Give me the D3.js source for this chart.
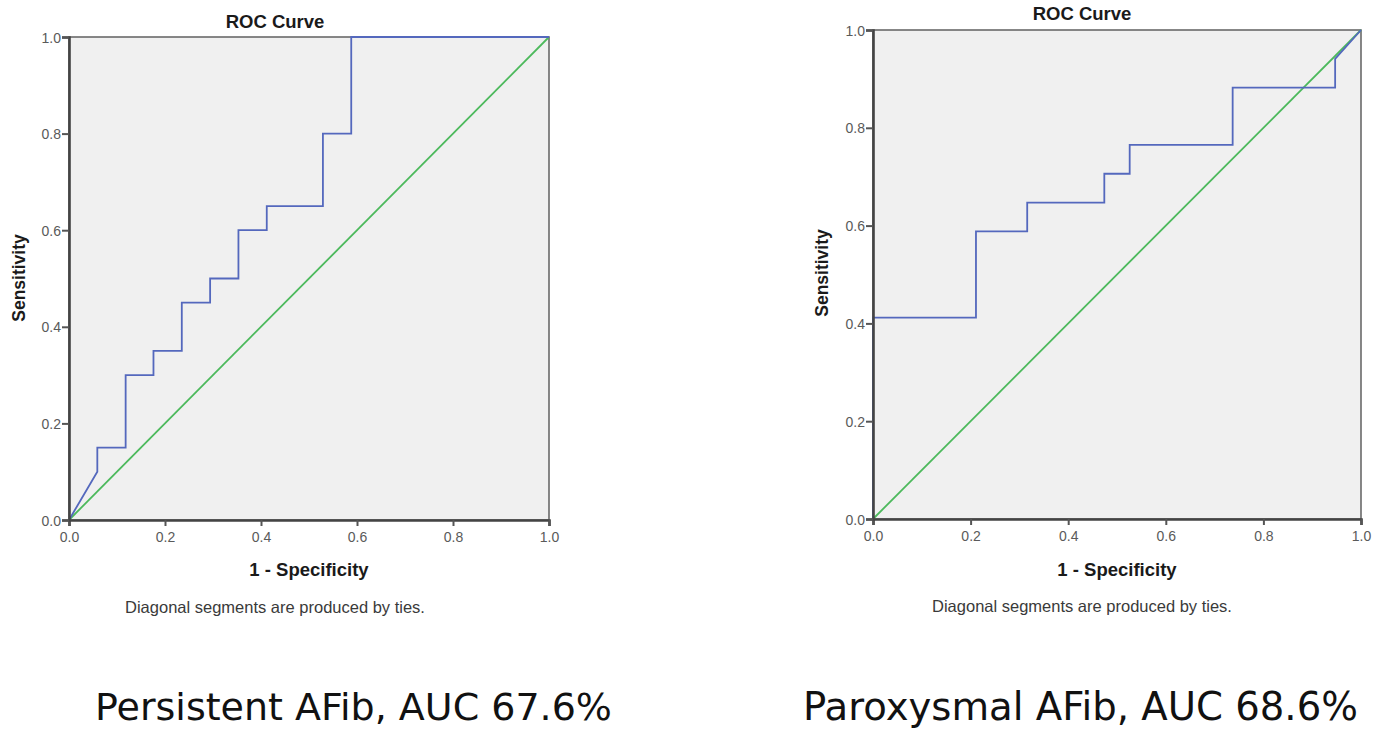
<!DOCTYPE html>
<html>
<head>
<meta charset="utf-8">
<script src="https://cdn.jsdelivr.net/npm/d3@7"></script>
<style>
  body { margin: 0; background: #fff; }
  svg { display: block; }
</style>
</head>
<body>
<svg id="chart" width="1384" height="731"></svg>
<script>
// ROC points (1 - specificity, sensitivity)
const persistentFpr = [0, 0.059, 0.059, 0.118, 0.118, 0.176, 0.176, 0.235, 0.235, 0.294, 0.294, 0.353, 0.353, 0.412, 0.412, 0.529, 0.529, 0.588, 0.588, 1.0];
const persistentTpr = [0, 0.10, 0.15, 0.15, 0.30, 0.30, 0.35, 0.35, 0.45, 0.45, 0.50, 0.50, 0.60, 0.60, 0.65, 0.65, 0.80, 0.80, 1.0, 1.0];

const paroxysmalFpr = [0, 0, 0.211, 0.211, 0.316, 0.316, 0.474, 0.474, 0.526, 0.526, 0.737, 0.737, 0.947, 0.947, 1.0];
const paroxysmalTpr = [0, 0.412, 0.412, 0.588, 0.588, 0.647, 0.647, 0.706, 0.706, 0.765, 0.765, 0.882, 0.882, 0.941, 1.0];

const tickValues = [0, 0.2, 0.4, 0.6, 0.8, 1.0];
const refLine = [0, 1];

const titleText = 'ROC Curve';
const xLabelText = '1 - Specificity';
const yLabelText = 'Sensitivity';
const noteText = 'Diagonal segments are produced by ties.';
const captions = ['Persistent AFib, AUC 67.6%', 'Paroxysmal AFib, AUC 68.6%'];

const svg = d3.select('#chart');

// one SPSS style ROC panel
const drawRoc = (opt) => {
    const x = d3.scaleLinear().domain([0, 1]).range([opt.left, opt.right]);
    const y = d3.scaleLinear().domain([0, 1]).range([opt.bottom, opt.top]);
    const g = svg.append('g');

    g.append('rect')
        .attr('x', opt.left).attr('y', opt.top)
        .attr('width', opt.right - opt.left).attr('height', opt.bottom - opt.top)
        .attr('fill', '#f0f0f0')
        .attr('stroke', '#6a6a6a').attr('stroke-width', 1.6);

    const line = d3.line().x(d => x(d[0])).y(d => y(d[1]));

    // chance diagonal
    g.append('path')
        .datum(refLine.map(v => [v, v]))
        .attr('d', line)
        .attr('fill', 'none').attr('stroke', '#4cb95c').attr('stroke-width', 1.8);

    // ROC step curve
    g.append('path')
        .datum(opt.fpr.map((v, i) => [v, opt.tpr[i]]))
        .attr('d', line)
        .attr('fill', 'none').attr('stroke', '#5468bd').attr('stroke-width', 1.8);

    const fmt = d3.format('.1f');
    const xAxis = g.append('g')
        .attr('transform', `translate(0,${opt.bottom})`)
        .call(d3.axisBottom(x).tickValues(tickValues).tickFormat(fmt).tickSize(6).tickPadding(6));
    const yAxis = g.append('g')
        .attr('transform', `translate(${opt.left},0)`)
        .call(d3.axisLeft(y).tickValues(tickValues).tickFormat(fmt).tickSize(7).tickPadding(1));

    [xAxis, yAxis].forEach(a => {
        a.select('.domain').attr('stroke', '#444').attr('stroke-width', 2.6);
        a.selectAll('.tick line').attr('stroke', '#555').attr('stroke-width', 2);
        a.selectAll('.tick text')
            .attr('fill', '#5a5a5a')
            .style('font-family', '"Liberation Sans", Arial, sans-serif')
            .style('font-size', '14px');
    });
    yAxis.selectAll('.tick text').attr('dy', '0.36em');

    g.append('text')
        .attr('x', opt.titleX).attr('y', opt.titleY)
        .attr('text-anchor', 'middle')
        .style('font-family', '"Liberation Sans", Arial, sans-serif')
        .style('font-weight', 'bold').style('font-size', '18.5px')
        .attr('fill', '#1a1a1a')
        .text(titleText);

    g.append('text')
        .attr('x', (opt.left + opt.right) / 2).attr('y', opt.xLabelY)
        .attr('text-anchor', 'middle')
        .style('font-family', '"Liberation Sans", Arial, sans-serif')
        .style('font-weight', 'bold').style('font-size', '18.5px')
        .attr('fill', '#1a1a1a')
        .text(xLabelText);

    g.append('text')
        .attr('transform', `translate(${opt.yLabelX},${opt.yLabelY}) rotate(-90)`)
        .attr('text-anchor', 'middle')
        .style('font-family', '"Liberation Sans", Arial, sans-serif')
        .style('font-weight', 'bold').style('font-size', '17.5px')
        .attr('fill', '#1a1a1a')
        .text(yLabelText);

    g.append('text')
        .attr('x', opt.titleX).attr('y', opt.noteY)
        .attr('text-anchor', 'middle')
        .style('font-family', '"Liberation Sans", Arial, sans-serif')
        .style('font-size', '16.5px')
        .attr('fill', '#3a3a3a')
        .text(noteText);

    // big caption, sized to the width it takes in the slide
    const cap = g.append('text')
        .attr('x', opt.capX).attr('y', opt.capY)
        .style('font-family', '"DejaVu Sans", sans-serif')
        .style('font-size', '34px')
        .attr('fill', '#111')
        .text(opt.caption);
    const w = cap.node().getComputedTextLength();
    cap.style('font-size', (34 * opt.capW / w).toFixed(2) + 'px');
};

drawRoc({
    fpr: persistentFpr, tpr: persistentTpr,
    left: 69, right: 549, top: 37, bottom: 520,
    titleX: 275, titleY: 28, xLabelY: 576, yLabelX: 25, yLabelY: 278, noteY: 613,
    caption: captions[0], capX: 95, capY: 720, capW: 517
});

drawRoc({
    fpr: paroxysmalFpr, tpr: paroxysmalTpr,
    left: 873, right: 1361, top: 30, bottom: 519,
    titleX: 1082, titleY: 20, xLabelY: 576, yLabelX: 828, yLabelY: 273, noteY: 612,
    caption: captions[1], capX: 803, capY: 720, capW: 555
});
</script>
</body>
</html>
